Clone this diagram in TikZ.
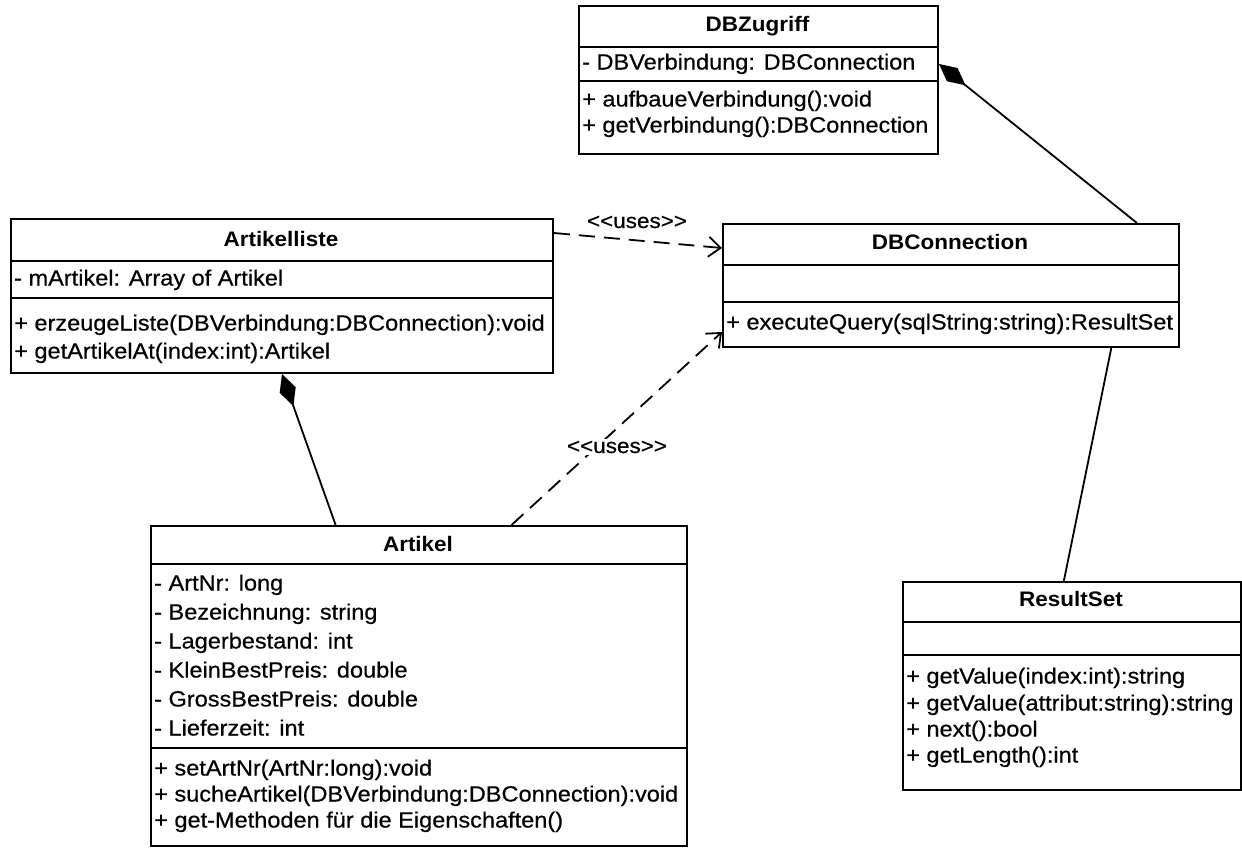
\documentclass[tikz,border=0pt]{standalone}
\usepackage{fontspec}
\setmainfont{Liberation Sans}[FakeStretch=1.07, UprightFeatures={FakeBold=0.5}]
\usetikzlibrary{arrows.meta,calc}
\tikzset{
  cls/.style={draw, line width=2pt, anchor=north west, inner sep=0pt, fill=white},
  ttl/.style={font=\fontsize{21}{26}\selectfont\bfseries, inner sep=0pt, text height=15pt, text depth=4pt},
  txt/.style={font=\fontsize{22}{28}\selectfont, anchor=west, inner sep=0pt, text height=16pt, text depth=5pt},
  sep/.style={line width=2pt},
  conn/.style={line width=1.8pt},
  comp/.style={conn, {Diamond[length=34pt,width=17pt]}-},
  uses/.style={conn, dash pattern=on 16pt off 9pt, -{Straight Barb[length=12pt,width=20pt]}},
  lbl/.style={font=\fontsize{21}{26}\selectfont, fill=white, inner sep=2pt},
}
\begin{document}
\begin{tikzpicture}[x=1pt,y=-1pt]
\useasboundingbox[fill=white] (0,0) rectangle (1242,849);

% ---------- DBZugriff ----------
\node[cls, minimum width=359pt, minimum height=148pt] (dbz) at (578,5) {};
\node[ttl] (dbzT) at (757.5,26) {DBZugriff};
\draw[sep] ($(dbz.north west)+(0,42)$) -- ($(dbz.north east)+(0,42)$);
\draw[sep] ($(dbz.north west)+(0,76)$) -- ($(dbz.north east)+(0,76)$);
\node[txt] (dbzA) at (582,64) {- DBVerbindung: DBConnection};
\node[txt] (dbzM1) at (582,101) {+ aufbaueVerbindung():void};
\node[txt] (dbzM2) at (582,127) {+ getVerbindung():DBConnection};

% ---------- Artikelliste ----------
\node[cls, minimum width=542pt, minimum height=154pt] (al) at (10,218) {};
\node[ttl] (alT) at (281,241) {Artikelliste};
\draw[sep] ($(al.north west)+(0,43)$) -- ($(al.north east)+(0,43)$);
\draw[sep] ($(al.north west)+(0,80)$) -- ($(al.north east)+(0,80)$);
\node[txt] (alA) at (14,280) {- mArtikel: Array of Artikel};
\node[txt] (alM1) at (14,325) {+ erzeugeListe(DBVerbindung:DBConnection):void};
\node[txt] (alM2) at (14,353) {+ getArtikelAt(index:int):Artikel};

% ---------- DBConnection ----------
\node[cls, minimum width=456pt, minimum height=123pt] (dbc) at (722,223) {};
\node[ttl] (dbcT) at (950,244) {DBConnection};
\draw[sep] ($(dbc.north west)+(0,42)$) -- ($(dbc.north east)+(0,42)$);
\draw[sep] ($(dbc.north west)+(0,79)$) -- ($(dbc.north east)+(0,79)$);
\node[txt] (dbcM1) at (726,324) {+ executeQuery(sqlString:string):ResultSet};

% ---------- Artikel ----------
\node[cls, minimum width=536pt, minimum height=320pt] (art) at (150,525) {};
\node[ttl] (artT) at (418,546) {Artikel};
\draw[sep] ($(art.north west)+(0,39)$) -- ($(art.north east)+(0,39)$);
\draw[sep] ($(art.north west)+(0,223)$) -- ($(art.north east)+(0,223)$);
\foreach \t [count=\i from 0] in {{- ArtNr: long},{- Bezeichnung: string},{- Lagerbestand: int},{- KleinBestPreis: double},{- GrossBestPreis: double},{- Lieferzeit: int}}
  \node[txt] (artA\i) at (154,585+29*\i) {\t};
\node[txt] (artM1) at (154,770) {+ setArtNr(ArtNr:long):void};
\node[txt] (artM2) at (154,796) {+ sucheArtikel(DBVerbindung:DBConnection):void};
\node[txt] (artM3) at (154,822) {+ get-Methoden für die Eigenschaften()};

% ---------- ResultSet ----------
\node[cls, minimum width=338pt, minimum height=208pt] (rs) at (902,581) {};
\node[ttl] (rsT) at (1071,601) {ResultSet};
\draw[sep] ($(rs.north west)+(0,41)$) -- ($(rs.north east)+(0,41)$);
\draw[sep] ($(rs.north west)+(0,74)$) -- ($(rs.north east)+(0,74)$);
\node[txt] (rsM1) at (906,678) {+ getValue(index:int):string};
\node[txt] (rsM2) at (906,705) {+ getValue(attribut:string):string};
\node[txt] (rsM3) at (906,731) {+ next():bool};
\node[txt] (rsM4) at (906,757) {+ getLength():int};

% ---------- connectors ----------
\draw[comp] (dbz.east |- dbzA) -- ($(dbc.north west)!0.906!(dbc.north east)$);
\draw[comp] (al.south) -- ($(art.north west)!0.345!(art.north east)$);
\draw[uses] ($(al.north east)+(0,15)$) -- ($(dbc.north west)+(0,25)$);
\node[lbl] (u1) at (637,222) {<\kern0pt<uses>\kern0pt>};
\draw[uses] ($(art.north west)!0.672!(art.north east)$) -- ($(dbc.north west)+(0,109)$);
\node[lbl] (u2) at (617,447) {<\kern0pt<uses>\kern0pt>};
\draw[conn] ($(dbc.south west)!0.85!(dbc.south east)$) -- ($(rs.north west)!0.476!(rs.north east)$);
\end{tikzpicture}
\end{document}
